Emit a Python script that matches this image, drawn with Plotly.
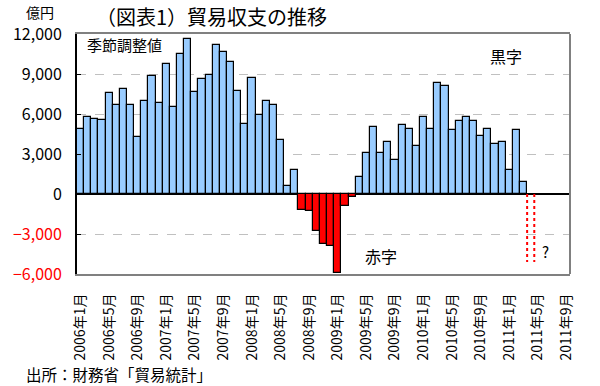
import plotly.graph_objects as go

# ---- data ----
months = [f"{y}年{m}月" for y in range(2006, 2012) for m in range(1, 13)][:69]
balance = [4900, 5775, 5625, 5550, 7600, 6675, 7875, 6675, 4275, 7000, 8850, 6850,
           9775, 6550, 10525, 11650, 7675, 8650, 8950, 11150, 10675, 9925, 7750, 5275,
           8700, 5950, 7000, 6675, 4075, 625, 1800, -1200, -1300, -2775, -3750, -3900,
           -5925, -900, -200, 1300, 3075, 5025, 3075, 3875, 2550, 5175, 4875, 3600,
           5775, 4875, 8325, 8100, 4800, 5475, 5775, 5475, 4350, 4875, 3750, 3900,
           1800, 4800, 900]
forecast_month = "2011年4月"
forecast_value = -5100
tick_labels = ["2006年1月", "2006年5月", "2006年9月", "2007年1月", "2007年5月", "2007年9月",
               "2008年1月", "2008年5月", "2008年9月", "2009年1月", "2009年5月", "2009年9月",
               "2010年1月", "2010年5月", "2010年9月", "2011年1月", "2011年5月", "2011年9月"]
y_ticks = [-6000, -3000, 0, 3000, 6000, 9000, 12000]

FONT = "Noto Sans CJK JP"
L, R, T, B = 77, 30, 34, 112
W, H = 600, 386
PW, PH = W - L - R, H - T - B


def px(x):
    return (x - L) / PW


def py(y):
    return (H - B - y) / PH


idx = list(range(len(balance)))
colors = ["#99CCFF" if v >= 0 else "#FF0000" for v in balance]

fig = go.Figure()
fig.add_trace(go.Bar(x=idx, y=balance, width=1,
                     marker=dict(color=colors, line=dict(color="black", width=1.2)),
                     showlegend=False, hoverinfo="skip"))

fi = months.index(forecast_month)
fig.add_trace(go.Scatter(x=[fi - 0.5, fi - 0.5, None, fi + 0.5, fi + 0.5],
                         y=[0, forecast_value, None, 0, forecast_value],
                         mode="lines", line=dict(color="#FF0000", width=2, dash="dot"),
                         showlegend=False, hoverinfo="skip"))

tick_idx = [months.index(t) for t in tick_labels]


def fmt(v):
    s = f"{abs(v):,}"
    if v < 0:
        return f'<span style="color:#FF0000">−{s}</span>'
    return s


fig.update_layout(
    width=W, height=H,
    margin=dict(l=L, r=R, t=T, b=B),
    paper_bgcolor="white", plot_bgcolor="white",
    font=dict(family=FONT, color="black"),
    bargap=0,
    xaxis=dict(range=[-0.5, len(months) - 0.5], tickvals=tick_idx, ticktext=tick_labels,
               tickangle=-90, showgrid=False, zeroline=False, showline=True,
               linecolor="#808080", linewidth=2, mirror=True, ticks="",
               automargin=False,
               ticklabelstandoff=12, tickfont=dict(size=14, family=FONT)),
    yaxis=dict(range=[-6000, 12000], tickvals=y_ticks, ticktext=[fmt(v) for v in y_ticks],
               showgrid=True, gridcolor="#C0C0C0", griddash="dash", gridwidth=1,
               zeroline=True, zerolinecolor="black", zerolinewidth=2,
               showline=True, linecolor="black", linewidth=2,
               ticks="inside", ticklen=4, tickcolor="black", tickwidth=1,
               automargin=False,
               ticklabelstandoff=10, tickfont=dict(size=16, family=FONT)),
    shapes=[dict(type="line", xref="paper", yref="paper", x0=1, x1=1, y0=0, y1=1,
                 line=dict(color="#808080", width=2))],
)

ann = [
    ("（図表1）貿易収支の推移", 94, 16, 20, "left"),
    ("億円", 40, 12, 14, "center"),
    ("季節調整値", 85, 45, 15, "left"),
    ("黒字", 506, 56, 16, "center"),
    ("赤字", 381, 256, 16, "center"),
    ("?", 545, 251, 15, "center"),
    ("出所：財務省「貿易統計」", 24, 374, 15.5, "left"),
]
for text, x, y, size, anchor in ann:
    fig.add_annotation(text=text, xref="paper", yref="paper", x=px(x), y=py(y),
                       xanchor=anchor, yanchor="middle", showarrow=False,
                       font=dict(size=size, family=FONT, color="black"))

fig.write_html("out.html", config={"displayModeBar": False},
               post_script="document.body.style.margin='0';document.body.style.overflow='hidden';")
